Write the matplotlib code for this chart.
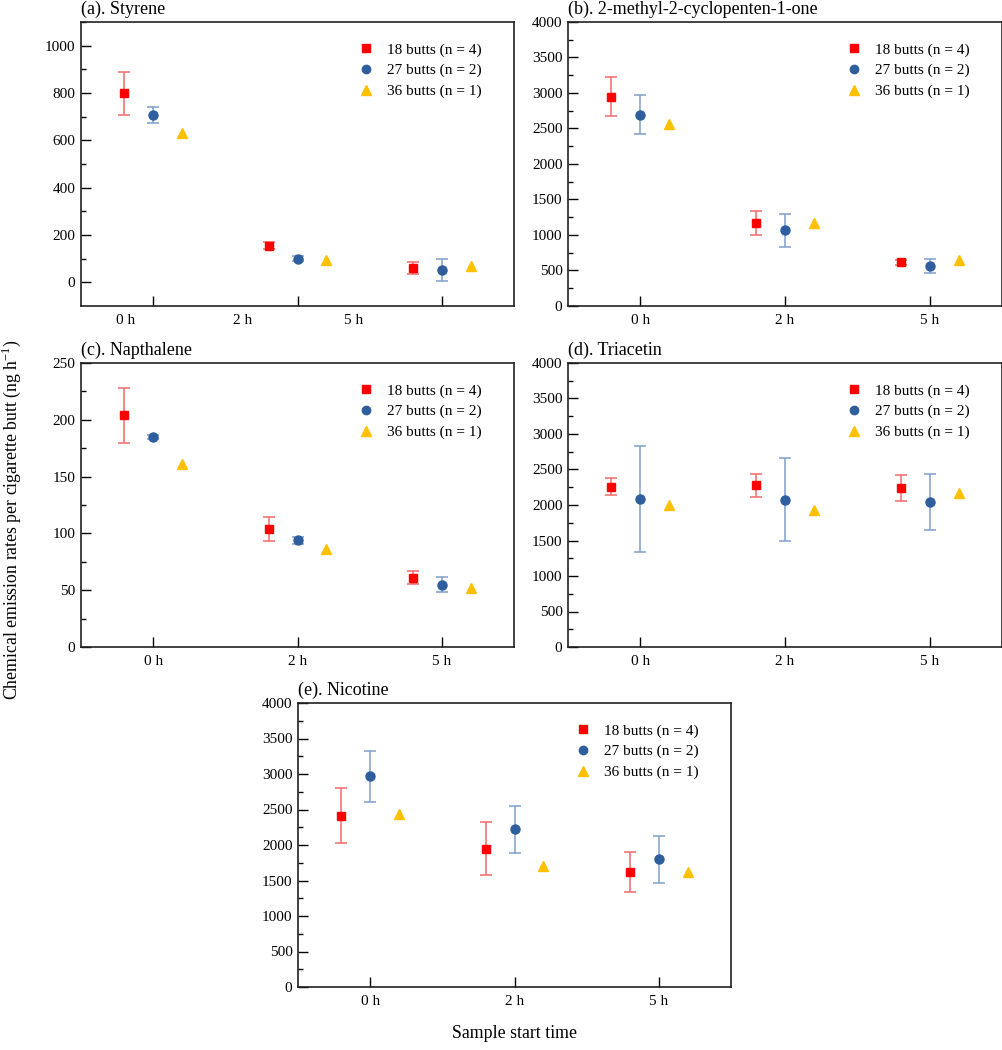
import matplotlib.pyplot as plt
from matplotlib.lines import Line2D
import numpy as np

plt.rcParams['font.family'] = ['Liberation Serif', 'DejaVu Serif']
plt.rcParams['mathtext.fontset'] = 'custom'
plt.rcParams['mathtext.rm'] = 'Liberation Serif'

# sample start time categories and butt groups
tempos = ['0 h', '2 h', '5 h']
grupos = ['18 butts (n = 4)', '27 butts (n = 2)', '36 butts (n = 1)']

# (a) Styrene
styrene_18 = [798, 155, 62]
styrene_18_err = [92, 14, 26]
styrene_27 = [706, 100, 51]
styrene_27_err = [34, 11, 46]
styrene_36 = [631, 94, 67]

# (b) 2-methyl-2-cyclopenten-1-one
methyl_18 = [2948, 1167, 613]
methyl_18_err = [272, 165, 36]
methyl_27 = [2695, 1066, 565]
methyl_27_err = [270, 230, 101]
methyl_36 = [2563, 1169, 648]

# (c) Napthalene
napth_18 = [204, 104, 61]
napth_18_err = [24, 10.5, 5.8]
napth_27 = [184.9, 94, 55]
napth_27_err = [1.5, 3.2, 7]
napth_36 = [161.5, 86.5, 51.5]

# (d) Triacetin
triac_18 = [2258, 2277, 2244]
triac_18_err = [122, 158, 183]
triac_27 = [2080, 2075, 2047]
triac_27_err = [744, 582, 394]
triac_36 = [1995, 1934, 2164]

# (e) Nicotine
nicot_18 = [2413, 1948, 1624]
nicot_18_err = [387, 373, 279]
nicot_27 = [2967, 2221, 1798]
nicot_27_err = [359, 334, 329]
nicot_36 = [2432, 1700, 1615]

paineis = [
    ('(a). Styrene', styrene_18, styrene_18_err, styrene_27, styrene_27_err, styrene_36, (-100, 1100), 200),
    ('(b). 2-methyl-2-cyclopenten-1-one', methyl_18, methyl_18_err, methyl_27, methyl_27_err, methyl_36, (0, 4000), 500),
    ('(c). Napthalene', napth_18, napth_18_err, napth_27, napth_27_err, napth_36, (0, 250), 50),
    ('(d). Triacetin', triac_18, triac_18_err, triac_27, triac_27_err, triac_36, (0, 4000), 500),
    ('(e). Nicotine', nicot_18, nicot_18_err, nicot_27, nicot_27_err, nicot_36, (0, 4000), 500),
]

W, H = 1003, 1050
# axes boxes in pixels: left, top, right, bottom
caixas = [(81, 22, 514, 306), (568, 22, 1002, 306),
          (81, 363, 514, 647), (568, 363, 1002, 647),
          (298, 703, 731, 987)]

cor_vermelho = '#ff0000'
cor_azul = '#2e5e9e'
cor_amarelo = '#ffc000'
err_vermelho = '#f26a6a'
err_azul = '#7f9fcb'

fig = plt.figure(figsize=(W / 100, H / 100), dpi=100)

# legend handles: markers only, no error bars
handles = [Line2D([], [], marker='s', color=cor_vermelho, linestyle='none', markersize=5.5),
           Line2D([], [], marker='o', color=cor_azul, linestyle='none', markersize=6),
           Line2D([], [], marker='^', color=cor_amarelo, linestyle='none', markersize=7)]

for k, (titulo, v18, e18, v27, e27, v36, ylim, passo) in enumerate(paineis):
    l, t, r, b = caixas[k]
    ax = fig.add_axes([l / W, 1 - b / H, (r - l) / W, (b - t) / H])
    x = np.arange(len(tempos))

    ax.errorbar(x - 0.2, v18, yerr=e18, fmt='s', color=cor_vermelho, ecolor=err_vermelho,
                markersize=5.5, elinewidth=1.1, capsize=4, capthick=1.1)
    ax.errorbar(x, v27, yerr=e27, fmt='o', color=cor_azul, ecolor=err_azul,
                markersize=6.5, elinewidth=1.1, capsize=4, capthick=1.1)
    ax.plot(x + 0.2, v36, '^', color=cor_amarelo, markersize=7, linestyle='none')

    ax.set_xlim(-0.5, 2.5)
    ax.set_ylim(*ylim)
    ax.set_yticks(np.arange(max(ylim[0], 0), ylim[1] + 1, passo))
    ax.set_yticks(np.arange(max(ylim[0], 0), ylim[1] + 1, passo / 2), minor=True)
    ax.tick_params(axis='y', which='major', direction='in', length=7, width=1, labelsize=11, pad=4)
    ax.tick_params(axis='y', which='minor', direction='in', length=3.5, width=1)

    if k == 0:
        # in the original panel (a) the labels sit off the tick marks
        ax.set_xticks(x, [''] * 3)
        ax.set_xticks([-0.19, 0.62, 1.39], tempos, minor=True)
        ax.tick_params(axis='x', which='minor', length=0, labelsize=11, pad=6)
    else:
        ax.set_xticks(x, tempos)
    ax.tick_params(axis='x', which='major', direction='in', length=7, width=1, labelsize=11, pad=6)

    for s in ax.spines.values():
        s.set_linewidth(1.2)
        s.set_color('#222222')

    ax.set_title(titulo, loc='left', fontsize=13, pad=5.5)
    ax.legend(handles, grupos, loc='upper right', bbox_to_anchor=(0.957, 0.975), frameon=False,
              fontsize=11, handlelength=1.2, handletextpad=0.8, labelspacing=0.45, numpoints=1)

fig.text(0.011, 0.505, 'Chemical emission rates per cigarette butt (ng h$^{-1}$)',
         rotation=90, ha='center', va='center', fontsize=12.8)
fig.text(0.513, 0.008, 'Sample start time', ha='center', va='bottom', fontsize=12.8)

fig.savefig('out.png', dpi=100)
